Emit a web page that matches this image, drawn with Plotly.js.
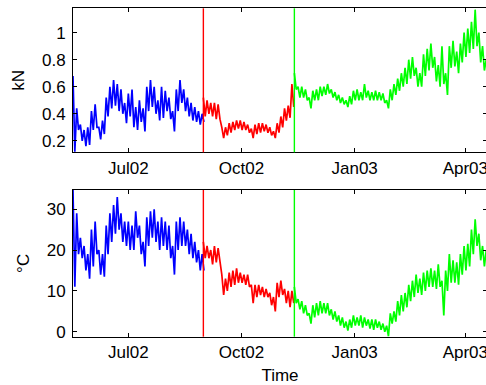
<!DOCTYPE html>
<html><head><meta charset="utf-8">
<script src="https://cdn.plot.ly/plotly-3.0.1.min.js"></script>
<style>html,body{margin:0;padding:0;overflow:hidden;background:#fff}</style>
</head><body>
<div id="chart" style="width:496px;height:385px"></div>
<script>
// Each reading slot covers 3 days: the slot's high reading, then its low reading 1.5 days later.
const slotDays = 3;
const blueStart = "2002-05-17";
const redStart = "2002-08-31";
const greenStart = "2002-11-13";

const tickVals = ["2002-07-01", "2002-10-01", "2003-01-01", "2003-04-01"];
const tickText = ["Jul02", "Oct02", "Jan03", "Apr03"];

// force (kN): highs and lows per slot
const blueForceHi = [0.68,0.44,0.32,0.28,0.3,0.42,0.47,0.3,0.35,0.52,0.6,0.65,0.62,0.58,0.48,0.55,0.58,0.45,0.5,0.44,0.6,0.65,0.6,0.5,0.6,0.57,0.52,0.42,0.58,0.65,0.58,0.52,0.48,0.45,0.42,0.4];
const blueForceLo = [0.12,0.28,0.2,0.16,0.17,0.28,0.3,0.21,0.25,0.38,0.44,0.46,0.42,0.4,0.33,0.38,0.3,0.28,0.34,0.27,0.42,0.45,0.4,0.35,0.37,0.42,0.36,0.27,0.42,0.48,0.42,0.38,0.35,0.34,0.32,0.34];
const redForceHi = [0.52,0.5,0.48,0.48,0.47,0.3,0.3,0.33,0.34,0.35,0.35,0.34,0.32,0.29,0.32,0.33,0.33,0.32,0.3,0.27,0.33,0.38,0.44,0.46,0.62];
const redForceLo = [0.38,0.4,0.38,0.36,0.36,0.22,0.24,0.26,0.28,0.29,0.28,0.28,0.26,0.22,0.25,0.26,0.27,0.26,0.24,0.22,0.26,0.3,0.35,0.37,0.45];
const greenForceHi = [0.7,0.6,0.6,0.58,0.52,0.57,0.58,0.6,0.6,0.62,0.58,0.56,0.54,0.52,0.5,0.53,0.57,0.58,0.56,0.62,0.57,0.56,0.57,0.56,0.55,0.5,0.58,0.62,0.66,0.7,0.74,0.8,0.82,0.74,0.7,0.84,0.88,0.92,0.82,0.76,0.9,0.7,0.9,0.94,0.86,0.92,1.0,1.03,1.08,1.17,1.0,0.9,0.8];
const greenForceLo = [0.58,0.52,0.52,0.5,0.44,0.5,0.5,0.53,0.54,0.55,0.52,0.5,0.48,0.47,0.45,0.47,0.5,0.5,0.5,0.52,0.5,0.5,0.5,0.5,0.48,0.44,0.5,0.54,0.57,0.6,0.62,0.66,0.68,0.6,0.6,0.68,0.72,0.74,0.64,0.6,0.62,0.54,0.74,0.75,0.7,0.78,0.82,0.85,0.88,0.9,0.78,0.72,0.7];

// temperature (°C): highs and lows per slot
const blueTempHi = [34.7,29,23,21,19,25,27,20,19,26,29,31,33,29,27,27,26,29.5,26,22,28,29.5,30,27,28,27,26,21,27,28,27,25,24,22,20,19];
const blueTempLo = [11,19,18,15,13,16,19,14,13.5,19,22,24,25,22,21,20,20,23,19,16,21,23,22,20,21,20,18,14,20,21,21,19,18,17,15,15];
const redTempHi = [22,21,20,21,20.5,14,13,14.5,15,15.5,14.5,14,14,11.5,11.5,11.5,11,10.5,9.5,8.5,12,12.5,10.5,10,10];
const redTempLo = [18,18,16.5,17,17,9,10,11,11.5,12,12,11.5,11,7,8.5,9,8.5,8.5,6.5,5,8.5,9,7,6,7];
const greenTempHi = [11,8,7.5,6.5,4.5,6.5,7,7.5,7,7,5.5,5,4,3.5,2.5,3,4,3.5,4,3.5,3,3,3,2.5,2,1.5,4.5,5,7.5,9,9.5,11.5,12.5,14,13,14.5,15,15.5,15,16.5,12.5,15,19,17.5,17,19,21,21.5,25,27.5,24,21,20];
const greenTempLo = [7,5.5,4.5,4,2,3.5,4,4.5,4.5,4,3,2.5,1.5,1,0.3,1,1.5,1.5,1,1.5,0.8,0.5,1,0.5,0,-1.1,2,2.5,4,5,6,7.5,8.5,9.5,9,10,11,11,10.5,11,4,10,12,12,11.5,14,15,16,19,21,17.5,16,16];

// Interleave each slot's high and low reading into one time series
function series(start, hi, lo) {
  const x = [], y = [];
  const t0 = new Date(start + "T00:00:00Z").getTime();
  const day = 86400000;
  for (let i = 0; i < hi.length; i++) {
    const t = t0 + i * slotDays * day;
    x.push(new Date(t).toISOString().slice(0, 16).replace("T", " "));
    y.push(hi[i]);
    x.push(new Date(t + slotDays * day / 2).toISOString().slice(0, 16).replace("T", " "));
    y.push(lo[i]);
  }
  return {x, y};
}

const BLUE = "#0000ff", RED = "#ff0000", GREEN = "#00ff00";
const LW = 1.7;
function tr(start, hi, lo, color, xa, ya) {
  const s = series(start, hi, lo);
  return {x: s.x, y: s.y, type: "scatter", mode: "lines",
    line: {color: color, width: LW}, xaxis: xa, yaxis: ya, hoverinfo: "skip"};
}

const data = [
  tr(blueStart, blueForceHi, blueForceLo, BLUE, "x", "y"),
  tr(redStart, redForceHi, redForceLo, RED, "x", "y"),
  tr(greenStart, greenForceHi, greenForceLo, GREEN, "x", "y"),
  tr(blueStart, blueTempHi, blueTempLo, BLUE, "x2", "y2"),
  tr(redStart, redTempHi, redTempLo, RED, "x2", "y2"),
  tr(greenStart, greenTempHi, greenTempLo, GREEN, "x2", "y2")
];

const FONT = {family: "Liberation Sans, Arial, sans-serif", size: 17, color: "#000"};
const xRange = ["2002-05-17", "2003-04-18 15:00"];
function xax(anchor, withTitle) {
  const a = {anchor: anchor, type: "date", range: xRange, tickmode: "array",
    tickvals: tickVals, ticktext: tickText, ticks: "inside", ticklen: 4, tickwidth: 1,
    tickcolor: "#000", showline: true, linecolor: "#000", linewidth: 1, mirror: "ticks",
    showgrid: false, zeroline: false, tickfont: FONT, ticklabelstandoff: 0};
  if (withTitle) a.title = {text: "Time", font: FONT, standoff: 9};
  return a;
}
function yax(anchor, domain, range, dtick, title, standoff) {
  return {anchor: anchor, domain: domain, range: range, dtick: dtick, ticks: "inside",
    ticklen: 4, tickwidth: 1, tickcolor: "#000", showline: true, linecolor: "#000",
    linewidth: 1, mirror: "ticks", showgrid: false, zeroline: false, tickfont: FONT,
    ticklabelstandoff: 3, title: {text: title, font: FONT, standoff: standoff}};
}

const vline = (d, color, xa, ya) => ({type: "line", xref: xa, yref: ya + " domain",
  x0: d, x1: d, y0: 0, y1: 1, layer: "above", line: {color: color, width: 1.4}});

const layout = {
  width: 496, height: 385, margin: {l: 73, r: 9, t: 0, b: 0},
  paper_bgcolor: "#fff", plot_bgcolor: "#fff", showlegend: false,
  xaxis: xax("y", false),
  yaxis: yax("x", [0.6044, 0.9784], [0.115, 1.18], 0.2, "kN", 12),
  xaxis2: xax("y2", true),
  yaxis2: yax("x2", [0.1255, 0.5065], [-1.2, 34.7], 10, "°C", 12),
  shapes: [
    vline(redStart, RED, "x", "y"), vline(greenStart, GREEN, "x", "y"),
    vline(redStart, RED, "x2", "y2"), vline(greenStart, GREEN, "x2", "y2")
  ]
};

Plotly.newPlot("chart", data, layout, {staticPlot: true, displayModeBar: false});
</script>
</body></html>
